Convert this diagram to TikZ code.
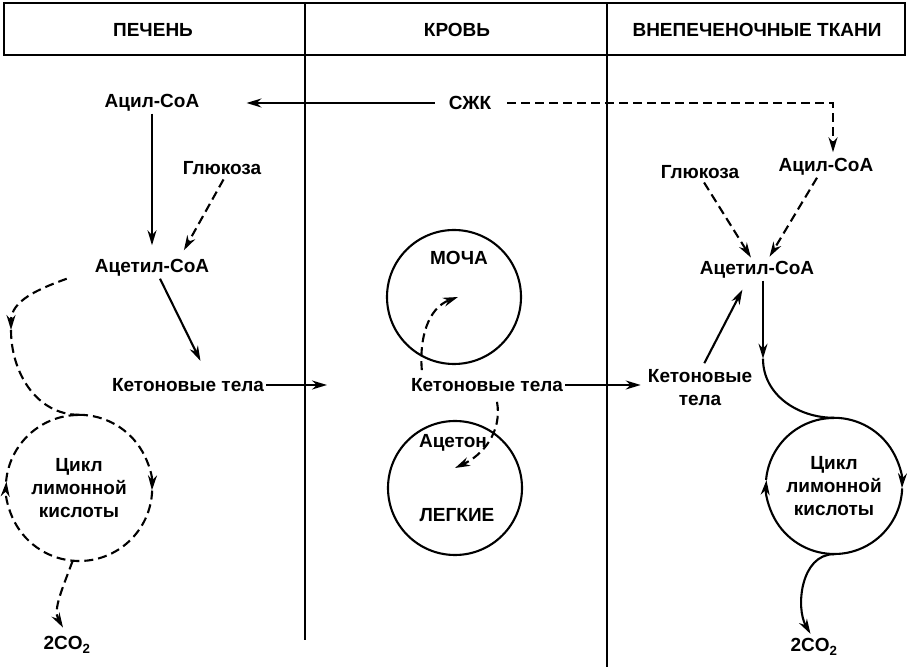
\documentclass[tikz,border=0pt]{standalone}
\usepackage{fontspec}
\setmainfont{Liberation Sans}
\usetikzlibrary{arrows.meta}
\tikzset{
  lbl/.style={inner sep=2pt,font=\fontsize{19}{23}\selectfont\bfseries},
  hdr/.style={inner sep=2pt,font=\fontsize{19}{23}\selectfont\bfseries},
  line/.style={line width=2.1pt},
  dline/.style={line,dash pattern=on 9pt off 5pt},
  arr/.style={line,-{Stealth[length=15pt,width=9pt]}},
  darr/.style={dline,-{Stealth[length=15pt,width=9pt]}},
  organ/.style={draw,circle,line width=2.1pt,minimum size=134pt,inner sep=0pt},
  cyc/.style={lbl,circle,align=center,inner sep=0pt},
}
\begin{document}
\begin{tikzpicture}[x=1pt,y=1pt]
	\useasboundingbox (0,0) rectangle (907,669);
	% table head and columns
	\draw[line width=2.4pt] (4,614) rectangle (905,666);
	\draw[line width=2.2pt] (305,666) -- (305,29);
	\draw[line width=2.2pt] (607,666) -- (607,2);
	\node[hdr] (liver) at (153,639) {ПЕЧЕНЬ};
	\node[hdr] (blood) at (457,639) {КРОВЬ};
	\node[hdr] (tissue) at (757,639) {ВНЕПЕЧЕНОЧНЫЕ ТКАНИ};
	
	% liver
	\node[lbl] (acylL) at (152,566) {Ацил-СоА};
	\node[lbl] (gluL) at (222,501) {Глюкоза};
	\node[lbl] (acetylL) at (152,401) {Ацетил-СоА};
	\node[lbl] (ketL) at (188,284) {Кетоновые тела};
	\node[cyc,minimum size=146pt] (cycleL) at (79,181) {Цикл\\лимонной\\кислоты};
	\node[lbl] (co2L) at (67,24) {2CO\textsubscript{2}};
	\coordinate (bendL) at (11,339);
	\coordinate (bloodin) at (327,284);
	
	% blood
	\node[lbl] (ffa) at (470,566) {СЖК};
	\node[organ] (urine) at (454,372) {};
	\node[lbl] (urinelbl) at (459,411) {МОЧА};
	\node[lbl] (ketB) at (487,284) {Кетоновые тела};
	\node[organ] (lungs) at (455,181) {};
	\node[lbl] (acetone) at (453,226) {Ацетон};
	\node[lbl] (lungslbl) at (457,154) {ЛЕГКИЕ};
	
	% extrahepatic tissues
	\node[lbl] (gluR) at (700,497) {Глюкоза};
	\node[lbl] (acylR) at (826,502) {Ацил-СоА};
	\node[lbl] (acetylR) at (757,399) {Ацетил-СоА};
	\node[lbl,align=center] (ketR) at (700,281) {Кетоновые\\тела};
	\node[cyc,minimum size=136pt] (cycleR) at (834,183) {Цикл\\лимонной\\кислоты};
	\node[lbl] (co2R) at (814,22) {2CO\textsubscript{2}};
	
	% liver arrows
	\draw[arr,shorten <=12pt,shorten >=45pt] (ffa.west) -- (ffa.west -| acylL.east);
	\draw[arr,shorten >=12pt] (acylL.south) -- (acylL.south |- acetylL.north);
	\draw[darr,shorten <=3pt,shorten >=8pt] ([xshift=3pt]gluL.south) -- ([xshift=28pt]acetylL.north);
	\draw[arr,shorten >=17pt] ([xshift=8pt]acetylL.south) -- ([xshift=20pt]ketL.north);
	\draw[arr] (ketL.east) -- (bloodin);
	\draw[darr] ([xshift=-26pt]acetylL.south west) to[out=200,in=90] (bendL);
	\draw[dline] (bendL) to[out=-90,in=180] (cycleL.north);
	\draw[darr] (cycleL.90) arc[start angle=90,end angle=-2,radius=73pt];
	\draw[darr] (cycleL.-2) arc[start angle=-2,end angle=-185,radius=73pt];
	\draw[dline] (cycleL.175) arc[start angle=175,end angle=90,radius=73pt];
	\draw[darr,shorten >=8pt] (cycleL.265) to[out=250,in=120] (co2L.north);
	
	% blood arrows
	\draw[darr,shorten <=14pt,shorten >=4pt] (ffa.east) -| ([xshift=7pt]acylR.north);
	\draw[darr] ([xshift=13pt,yshift=6pt]ketB.north west) to[out=95,in=200] ([xshift=4pt]urine.center);
	\draw[darr] ([xshift=10pt,yshift=-8pt]ketB.south) to[out=-80,in=25] ([yshift=20pt]lungs.center);
	\draw[arr,shorten >=5pt] (ketB.east) -- (ketB.east -| ketR.west);
	
	% tissue arrows
	\draw[darr,shorten <=2pt,shorten >=2pt] ([xshift=3pt]gluR.south) -- ([xshift=-5pt]acetylR.north);
	\draw[darr,shorten >=3pt] ([xshift=-9pt]acylR.south) -- ([xshift=11pt]acetylR.north);
	\draw[arr,shorten <=5pt,shorten >=10pt] ([xshift=2pt]ketR.north) -- ([xshift=-10pt]acetylR.south);
	\draw[arr] ([xshift=6pt]acetylR.south) -- ++(0,-78) coordinate (dropR);
	\draw[line] (dropR) to[out=-90,in=180] (cycleR.north);
	\draw[arr] (cycleR.90) arc[start angle=90,end angle=-2,radius=68pt];
	\draw[arr] (cycleR.-2) arc[start angle=-2,end angle=-185,radius=68pt];
	\draw[line] (cycleR.175) arc[start angle=175,end angle=90,radius=68pt];
	\draw[arr,shorten >=3pt] (cycleR.south) to[out=180,in=120] ([xshift=-2pt]co2R.north);
	
\end{tikzpicture}
\end{document}
